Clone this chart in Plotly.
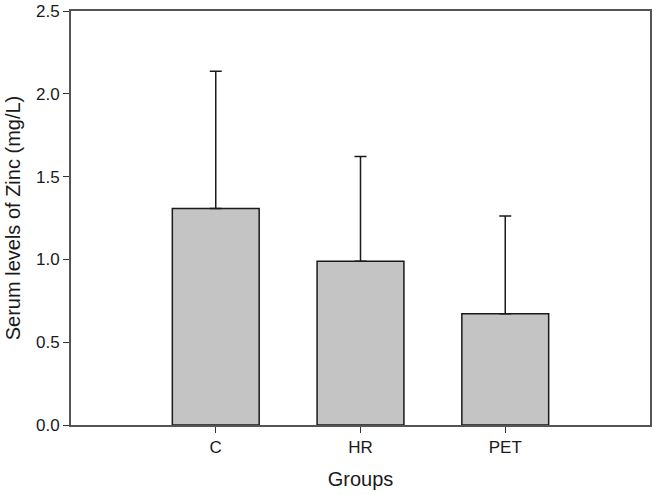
import plotly.graph_objects as go

# group means and upper error (SD)
groups = ["C", "HR", "PET"]
zinc_mean = [1.308, 0.989, 0.672]
zinc_err = [0.829, 0.632, 0.590]
y_ticks = [0, 0.5, 1.0, 1.5, 2.0, 2.5]
y_labels = ["0.0", "0.5", "1.0", "1.5", "2.0", "2.5"]

fig = go.Figure()
fig.add_trace(go.Bar(
    x=groups,
    y=zinc_mean,
    width=0.6,
    marker=dict(color="#c4c4c4", line=dict(color="#1a1a1a", width=1.5)),
    error_y=dict(type="data", symmetric=False, array=zinc_err,
                 arrayminus=[0, 0, 0], color="#1a1a1a", thickness=1.5, width=6),
    showlegend=False,
))

axis_font = dict(family="Liberation Sans, Arial, sans-serif", size=17, color="#1a1a1a")
title_font = dict(family="Liberation Sans, Arial, sans-serif", size=20, color="#1a1a1a")

fig.update_layout(
    width=654, height=495,
    margin=dict(l=71, r=2, t=7, b=70),
    plot_bgcolor="white",
    paper_bgcolor="white",
    xaxis=dict(
        range=[-1, 3],
        showline=True, linecolor="#555555", linewidth=2, mirror=True,
        ticks="outside", ticklen=6, tickcolor="#333333", tickwidth=1.2,
        tickfont=axis_font,
        title=dict(text="Groups", font=title_font, standoff=16),
        showgrid=False, zeroline=False,
    ),
    yaxis=dict(
        range=[0, 2.5005],
        tickvals=y_ticks,
        ticktext=y_labels,
        ticklabeloverflow="allow",
        showline=True, linecolor="#555555", linewidth=2, mirror=True,
        ticks="outside", ticklen=6, tickcolor="#333333", tickwidth=1.2,
        tickfont=axis_font,
        title=dict(text="Serum levels of Zinc (mg/L)", font=title_font, standoff=10),
        showgrid=False, zeroline=False,
    ),
)

fig.write_html("out.html", config={"displayModeBar": False},
               post_script="document.body.style.margin='0';")
